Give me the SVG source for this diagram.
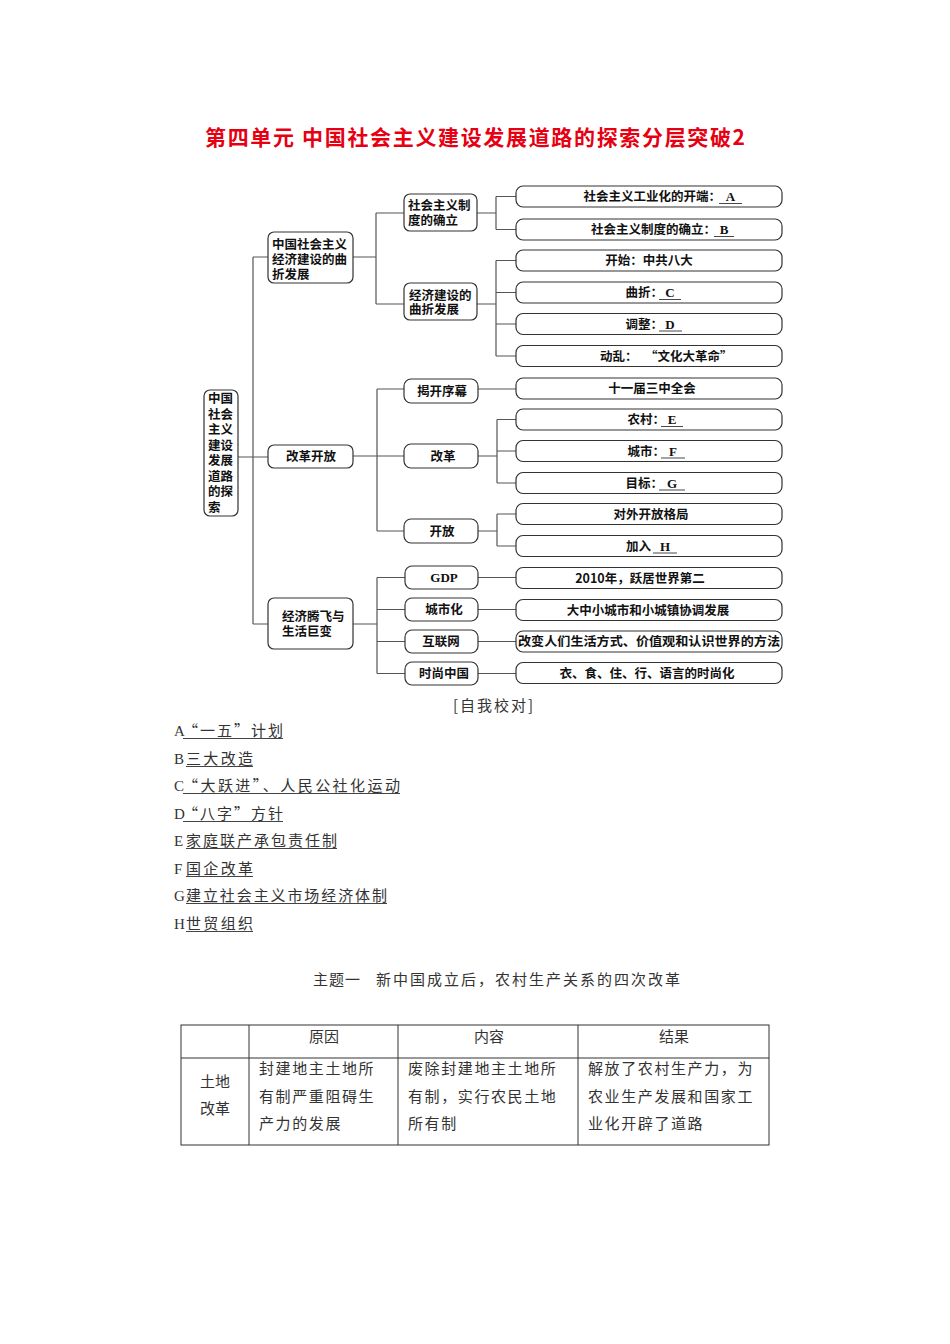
<svg xmlns="http://www.w3.org/2000/svg" width="950" height="1344" viewBox="0 0 950 1344">
<style>
.box{fill:#fff;stroke:#333;stroke-width:1.2}
.conn{fill:none;stroke:#555;stroke-width:1.2}
.t{font-family:"Noto Sans CJK SC",sans-serif;font-weight:bold;font-size:12.5px;fill:#111}
.c{text-anchor:middle}
.e{text-anchor:end}
.L{font-family:"Liberation Serif",serif;font-weight:bold;font-size:13px;fill:#111;text-anchor:middle}
.ul{stroke:#333;stroke-width:0.9}
.n{font-family:"Noto Sans CJK SC",sans-serif;font-size:15px;fill:#333}
.nl{font-family:"Liberation Serif",serif;font-size:15px;fill:#333}
.ulu{stroke:#444;stroke-width:1}
.tb{fill:none;stroke:#333;stroke-width:1}
</style>
<rect width="950" height="1344" fill="#fff"/>
<text x="205" y="145" font-family="Noto Sans CJK SC, sans-serif" font-weight="bold" font-size="21" fill="#e60012" textLength="540" lengthAdjust="spacing">第四单元 中国社会主义建设发展道路的探索分层突破2</text>

<g id="connectors">
<path class="conn" d="M238 457 H268 M253 257 V624 M253 257 H268 M253 624 H268"/>
<path class="conn" d="M353 257 H376 M376 213 V304 M376 213 H404 M376 304 H404"/>
<path class="conn" d="M477 213 H496 M496 196.5 V229.5 M496 196.5 H516 M496 229.5 H516"/>
<path class="conn" d="M477 304 H496 M496 260.5 V356 M496 260.5 H516 M496 292.5 H516 M496 324 H516 M496 356 H516"/>
<path class="conn" d="M353 456 H404 M377 389 V531 M377 389 H404 M377 531 H404"/>
<path class="conn" d="M478 389 H516"/>
<path class="conn" d="M478 456 H497 M497 419.5 V483 M497 419.5 H516 M497 451 H516 M497 483 H516"/>
<path class="conn" d="M478 531 H497 M497 514 V546 M497 514 H516 M497 546 H516"/>
<path class="conn" d="M353 624 H377 M377 577.5 V673.5 M377 577.5 H405 M377 609.5 H405 M377 641.5 H405 M377 673.5 H405"/>
<path class="conn" d="M478 577.5 H516 M478 609.5 H516 M478 641.5 H516 M478 673.5 H516"/>
</g>

<g id="root">
<rect class="box" x="204" y="390" width="34" height="126" rx="6"/>
<text class="t" x="208"><tspan x="208" y="403">中国</tspan><tspan x="208" y="418.5">社会</tspan><tspan x="208" y="434">主义</tspan><tspan x="208" y="449.5">建设</tspan><tspan x="208" y="465">发展</tspan><tspan x="208" y="480.5">道路</tspan><tspan x="208" y="496">的探</tspan><tspan x="208" y="511.5">索</tspan></text>
</g>

<g id="n1">
<rect class="box" x="268" y="232" width="85" height="51" rx="6"/>
<text class="t"><tspan x="272" y="249">中国社会主义</tspan><tspan x="272" y="264">经济建设的曲</tspan><tspan x="272" y="278.5">折发展</tspan></text>
</g>
<g id="n2">
<rect class="box" x="268" y="445" width="85" height="23" rx="6"/>
<text class="t c" x="311" y="461">改革开放</text>
</g>
<g id="n3">
<rect class="box" x="268" y="598" width="85" height="51" rx="6"/>
<text class="t"><tspan x="282" y="621">经济腾飞与</tspan><tspan x="282" y="636">生活巨变</tspan></text>
</g>

<g id="n1a">
<rect class="box" x="404" y="194" width="73" height="37" rx="6"/>
<text class="t"><tspan x="408" y="210">社会主义制</tspan><tspan x="408" y="225">度的确立</tspan></text>
</g>
<g id="n1b">
<rect class="box" x="404" y="283" width="73" height="37" rx="6"/>
<text class="t"><tspan x="409" y="299.5">经济建设的</tspan><tspan x="409" y="314">曲折发展</tspan></text>
</g>
<g id="n2a"><rect class="box" x="404" y="379" width="74" height="24" rx="7"/><text class="t c" x="442" y="395.5">揭开序幕</text></g>
<g id="n2b"><rect class="box" x="404" y="444" width="74" height="24" rx="7"/><text class="t c" x="443" y="460.5">改革</text></g>
<g id="n2c"><rect class="box" x="404" y="519" width="74" height="24" rx="7"/><text class="t c" x="442" y="535.5">开放</text></g>
<g id="n3a"><rect class="box" x="405" y="566" width="73" height="23" rx="7"/><text class="L" x="444" y="582">GDP</text></g>
<g id="n3b"><rect class="box" x="405" y="598" width="73" height="23" rx="7"/><text class="t c" x="444" y="614">城市化</text></g>
<g id="n3c"><rect class="box" x="405" y="630" width="73" height="23" rx="7"/><text class="t c" x="441" y="646">互联网</text></g>
<g id="n3d"><rect class="box" x="405" y="662" width="73" height="23" rx="7"/><text class="t c" x="444" y="678">时尚中国</text></g>

<g id="l1"><rect class="box" x="516" y="186" width="266" height="21" rx="7"/><text class="t e" x="721" y="201">社会主义工业化的开端：</text><text class="L" x="730.5" y="201">A</text><line class="ul" x1="719" y1="203.5" x2="742" y2="203.5"/></g>
<g id="l2"><rect class="box" x="516" y="219" width="266" height="21" rx="7"/><text class="t e" x="716" y="234">社会主义制度的确立：</text><text class="L" x="724" y="234">B</text><line class="ul" x1="714" y1="236.5" x2="734" y2="236.5"/></g>
<g id="l3"><rect class="box" x="516" y="250" width="266" height="21" rx="7"/><text class="t c" x="649" y="265">开始：中共八大</text></g>
<g id="l4"><rect class="box" x="516" y="282" width="266" height="21" rx="7"/><text class="t e" x="663" y="297">曲折：</text><text class="L" x="670" y="297">C</text><line class="ul" x1="659" y1="299.5" x2="681" y2="299.5"/></g>
<g id="l5"><rect class="box" x="516" y="313.5" width="266" height="21" rx="7"/><text class="t e" x="663" y="328.5">调整：</text><text class="L" x="670" y="328.5">D</text><line class="ul" x1="659" y1="331" x2="682" y2="331"/></g>
<g id="l6"><rect class="box" x="516" y="345.5" width="266" height="21" rx="7"/><text class="t" x="600" y="360.5">动乱：</text><text class="t" x="645" y="360.5">“文化大革命”</text></g>
<g id="l7"><rect class="box" x="516" y="378" width="266" height="21" rx="7"/><text class="t c" x="652" y="393">十一届三中全会</text></g>
<g id="l8"><rect class="box" x="516" y="409" width="266" height="21" rx="7"/><text class="t e" x="665" y="424">农村：</text><text class="L" x="672" y="424">E</text><line class="ul" x1="661" y1="426.5" x2="683" y2="426.5"/></g>
<g id="l9"><rect class="box" x="516" y="440.5" width="266" height="21" rx="7"/><text class="t e" x="665" y="455.5">城市：</text><text class="L" x="673" y="455.5">F</text><line class="ul" x1="661" y1="458" x2="685" y2="458"/></g>
<g id="l10"><rect class="box" x="516" y="472.5" width="266" height="21" rx="7"/><text class="t e" x="663" y="487.5">目标：</text><text class="L" x="672" y="487.5">G</text><line class="ul" x1="659" y1="490" x2="685" y2="490"/></g>
<g id="l11"><rect class="box" x="516" y="503.5" width="266" height="21" rx="7"/><text class="t c" x="651" y="518.5">对外开放格局</text></g>
<g id="l12"><rect class="box" x="516" y="535.5" width="266" height="21" rx="7"/><text class="t e" x="651" y="550.5">加入</text><text class="L" x="665" y="550.5">H</text><line class="ul" x1="653" y1="553" x2="677" y2="553"/></g>
<g id="l13"><rect class="box" x="516" y="567.5" width="266" height="21" rx="7"/><text class="t c" x="640" y="582.5">2010年，跃居世界第二</text></g>
<g id="l14"><rect class="box" x="516" y="599.5" width="266" height="21" rx="7"/><text class="t c" x="648" y="614.5">大中小城市和小城镇协调发展</text></g>
<g id="l15"><rect class="box" x="516" y="631" width="266" height="21" rx="7"/><text class="t" x="518" y="646" textLength="262" lengthAdjust="spacingAndGlyphs">改变人们生活方式、价值观和认识世界的方法</text></g>
<g id="l16"><rect class="box" x="516" y="662.5" width="266" height="21" rx="7"/><text class="t c" x="647" y="677.5">衣、食、住、行、语言的时尚化</text></g>

<g id="answers">
<text class="n" x="453" y="711" textLength="80" lengthAdjust="spacing">[自我校对]</text>
<text class="nl" x="174" y="736">A</text><text class="n" x="183" y="736" textLength="100" lengthAdjust="spacing">“一五”计划</text><line class="ulu" x1="183" y1="738.5" x2="283" y2="738.5"/>
<text class="nl" x="174" y="764">B</text><text class="n" x="186" y="764" textLength="67" lengthAdjust="spacing">三大改造</text><line class="ulu" x1="186" y1="766.5" x2="253" y2="766.5"/>
<text class="nl" x="174" y="791">C</text><text class="n" x="183" y="791" textLength="217" lengthAdjust="spacing">“大跃进”、人民公社化运动</text><line class="ulu" x1="183" y1="793.5" x2="400" y2="793.5"/>
<text class="nl" x="174" y="819">D</text><text class="n" x="183" y="819" textLength="100" lengthAdjust="spacing">“八字”方针</text><line class="ulu" x1="183" y1="821.5" x2="283" y2="821.5"/>
<text class="nl" x="174" y="846">E</text><text class="n" x="186" y="846" textLength="151" lengthAdjust="spacing">家庭联产承包责任制</text><line class="ulu" x1="186" y1="848.5" x2="337" y2="848.5"/>
<text class="nl" x="174" y="874">F</text><text class="n" x="186" y="874" textLength="67" lengthAdjust="spacing">国企改革</text><line class="ulu" x1="186" y1="876.5" x2="253" y2="876.5"/>
<text class="nl" x="174" y="901">G</text><text class="n" x="186" y="901" textLength="201" lengthAdjust="spacing">建立社会主义市场经济体制</text><line class="ulu" x1="186" y1="903.5" x2="387" y2="903.5"/>
<text class="nl" x="174" y="929">H</text><text class="n" x="186" y="929" textLength="67" lengthAdjust="spacing">世贸组织</text><line class="ulu" x1="186" y1="931.5" x2="253" y2="931.5"/>
</g>

<g id="theme">
<text class="n" x="313" y="985" textLength="47" lengthAdjust="spacing">主题一</text>
<text class="n" x="376" y="985" textLength="304" lengthAdjust="spacing">新中国成立后，农村生产关系的四次改革</text>
</g>

<g id="table">
<rect class="tb" x="181" y="1025" width="588" height="120"/>
<path class="tb" d="M181 1058 H769 M249 1025 V1145 M398 1025 V1145 M578 1025 V1145"/>
<text class="n c" x="324" y="1042">原因</text>
<text class="n c" x="489" y="1042">内容</text>
<text class="n c" x="674" y="1042">结果</text>
<text class="n"><tspan x="200" y="1087">土地</tspan><tspan x="200" y="1114">改革</tspan></text>
<text class="n" style="letter-spacing:1.6px"><tspan x="259" y="1074">封建地主土地所</tspan><tspan x="259" y="1102">有制严重阻碍生</tspan><tspan x="259" y="1129">产力的发展</tspan></text>
<text class="n" style="letter-spacing:1.6px"><tspan x="408" y="1074">废除封建地主土地所</tspan><tspan x="408" y="1102">有制，实行农民土地</tspan><tspan x="408" y="1129">所有制</tspan></text>
<text class="n" style="letter-spacing:1.6px"><tspan x="588" y="1074">解放了农村生产力，为</tspan><tspan x="588" y="1102">农业生产发展和国家工</tspan><tspan x="588" y="1129">业化开辟了道路</tspan></text>
</g>
</svg>
